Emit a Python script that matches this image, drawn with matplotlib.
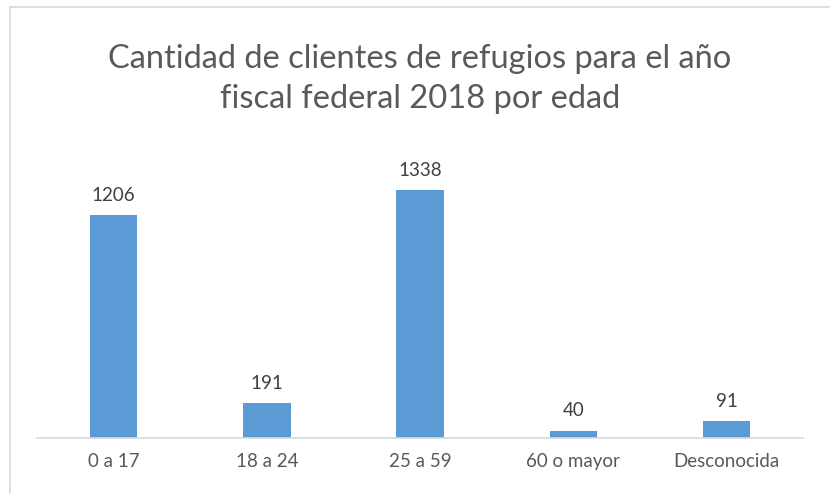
import matplotlib.pyplot as plt
import numpy as np

categories = ["0 a 17", "18 a 24", "25 a 59", "60 o mayor", "Desconocida"]
counts = [1206, 191, 1338, 40, 91]
title = "Cantidad de clientes de refugios para el año\nfiscal federal 2018 por edad"

plt.rcParams['font.family'] = ['Lato', 'DejaVu Sans']

fig = plt.figure(figsize=(8.3, 4.94), dpi=100)
ax = fig.add_axes([0.0446, 0.1134, 0.923, 0.5992])

x = np.arange(len(categories))
bars = ax.bar(x, counts, width=0.31, color="#5b9bd5")
for xi, v in zip(x, counts):
    ax.annotate(str(v), (xi, v), xytext=(0, 8), textcoords="offset points",
                ha="center", va="bottom", fontsize=13.5, color="#404040")

ax.set_xlim(-0.5, len(categories) - 0.5)
ax.set_ylim(0, 1600)
ax.set_xticks(x)
ax.set_xticklabels(categories, fontsize=13.5, color="#595959")
ax.tick_params(axis="x", length=0, pad=11)
ax.set_yticks([])
for side in ["top", "right", "left"]:
    ax.spines[side].set_visible(False)
ax.spines["bottom"].set_color("#d9d9d9")
ax.spines["bottom"].set_linewidth(1.2)

fig.text(0.506, 0.84, title, ha="center", va="center", fontsize=23.5,
         color="#595959", linespacing=1.42)

# outer chart border (only left and top visible in the crop)
fig.add_artist(plt.Line2D([0.0121, 0.0121], [0, 0.986], color="#d9d9d9", lw=1.2, transform=fig.transFigure))
fig.add_artist(plt.Line2D([0.0121, 1.0], [0.986, 0.986], color="#d9d9d9", lw=1.2, transform=fig.transFigure))

fig.savefig("out.png", dpi=100)
